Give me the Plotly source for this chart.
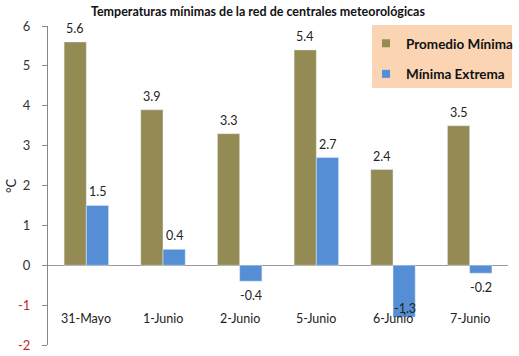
import plotly.graph_objects as go

categories = ["31-Mayo", "1-Junio", "2-Junio", "5-Junio", "6-Junio", "7-Junio"]
promedio_minima = [5.6, 3.9, 3.3, 5.4, 2.4, 3.5]
minima_extrema = [1.5, 0.4, -0.4, 2.7, -1.3, -0.2]
y_ticks = [-2, -1, 0, 1, 2, 3, 4, 5, 6]
series_names = ["Promedio Mínima", "Mínima Extrema"]

OLIVE = "#948A54"
BLUE = "#558ED5"
FONT = "Lato"

fig = go.Figure()
fig.add_trace(go.Bar(x=categories, y=promedio_minima, name=series_names[0],
                     marker_color=OLIVE, showlegend=False))
fig.add_trace(go.Bar(x=categories, y=minima_extrema, name=series_names[1],
                     marker_color=BLUE, showlegend=False))
# legend entries with small square markers
for nm, col in zip(series_names, [OLIVE, BLUE]):
    fig.add_trace(go.Scatter(x=[None], y=[None], mode="markers", name=f"<b>{nm}</b>",
                             legendgroup=nm,
                             marker=dict(symbol="square", size=8, color=col)))

annotations = []
half = 11.5
for c, v in zip(categories, promedio_minima):
    annotations.append(dict(x=c, y=v, xref="x", yref="y", text=f"{v:.1f}", showarrow=False,
                            xshift=-half, yshift=4, yanchor="bottom",
                            font=dict(size=12.5, color="#222")))
for c, v in zip(categories, minima_extrema):
    if v >= 0:
        annotations.append(dict(x=c, y=v, xref="x", yref="y", text=f"{v:.1f}", showarrow=False,
                                xshift=half, yshift=4, yanchor="bottom",
                                font=dict(size=12.5, color="#222")))
    else:
        yy = max(v, -0.72)
        annotations.append(dict(x=c, y=yy, xref="x", yref="y", text=f"{v:.1f}", showarrow=False,
                                xshift=half, yshift=-5, yanchor="top",
                                font=dict(size=12.5, color="#222")))
for c in categories:
    annotations.append(dict(x=c, y=-1.33, xref="x", yref="y", text=c, showarrow=False,
                            font=dict(size=12.5, color="#222")))
annotations.append(dict(x=(11 - 48) / 460, y=(345 - 186) / 319, xref="paper", yref="paper",
                        text="°C", showarrow=False, textangle=-90,
                        xanchor="center", yanchor="middle",
                        font=dict(size=13, color="#222")))

fig.update_layout(
    width=519, height=356,
    margin=dict(l=48, r=11, t=26, b=11, autoexpand=False),
    paper_bgcolor="white", plot_bgcolor="white",
    font=dict(family=FONT, size=12, color="#222"),
    title=dict(text="<b>Temperaturas mínimas de la red de centrales meteorológicas</b>",
               x=0.497, xanchor="center", y=0.966, yanchor="middle",
               font=dict(size=12.5, color="#111")),
    barmode="group", bargap=0.42, bargroupgap=0,
    showlegend=True,
    legend=dict(x=(366 - 48) / 460, y=(345 - 28) / 319, xanchor="left", yanchor="top",
                bgcolor="rgba(0,0,0,0)", borderwidth=0,
                font=dict(size=13.5, color="#111", family=FONT),
                itemwidth=30, tracegroupgap=10),
    annotations=annotations,
    shapes=[dict(type="rect", xref="paper", yref="paper",
                 x0=(372 - 48) / 460, x1=(512 - 48) / 460,
                 y0=(345 - 88) / 319, y1=(345 - 25) / 319,
                 fillcolor="#FBD4B4", line=dict(width=0), layer="below")],
)

fig.update_xaxes(showticklabels=False, showline=False, ticks="", showgrid=False,
                 zeroline=False, automargin=False)
fig.update_yaxes(range=[-2, 6], tickvals=y_ticks,
                 ticktext=[(f"<span style='color:#C0282D'>{t}</span>" if t < 0 else str(t))
                           for t in y_ticks],
                 showgrid=False, showline=True, linecolor="#888", linewidth=1,
                 ticks="outside", ticklen=5, tickcolor="#888", ticklabelstandoff=9,
                 zeroline=True, zerolinecolor="#999", zerolinewidth=1, automargin=False,
                 tickfont=dict(size=13, color="#333"))
fig.write_html("out.html", config={"displayModeBar": False},
               post_script="document.body.style.margin='0';document.body.style.overflow='hidden';")
